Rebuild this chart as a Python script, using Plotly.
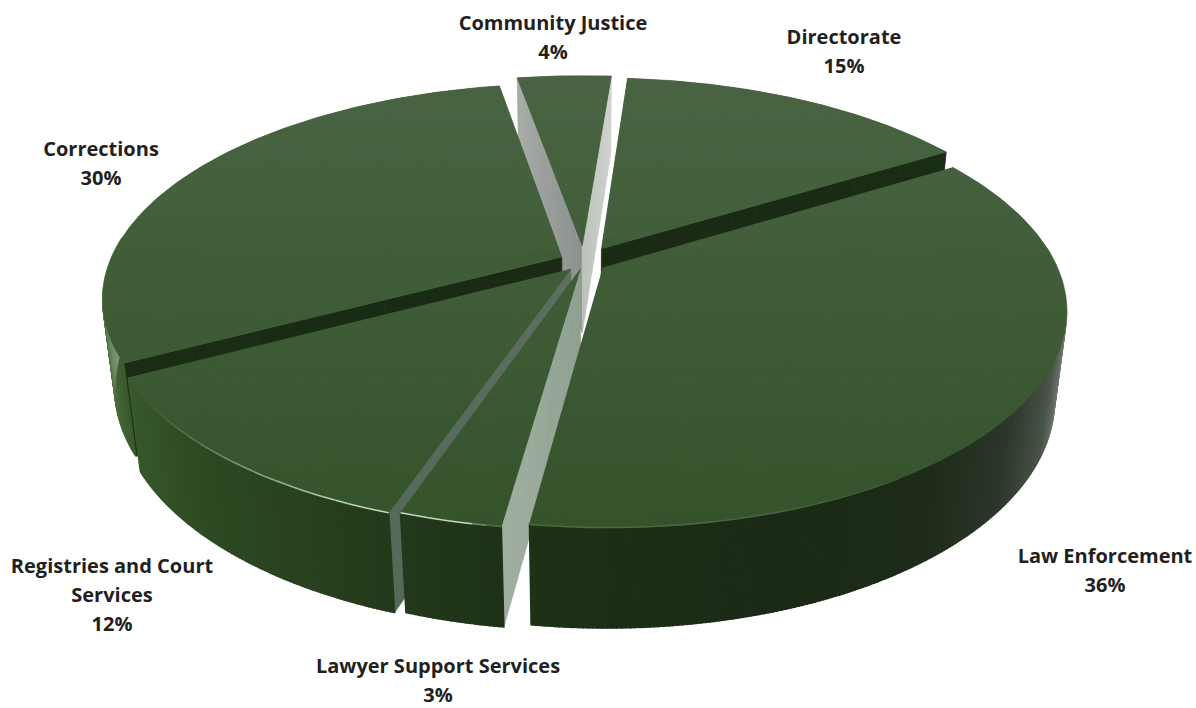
import numpy as np
import plotly.graph_objects as go

# Budget shares, clockwise from the back of the pie
categories = ["Community Justice", "Directorate", "Law Enforcement",
              "Lawyer Support Services", "Registries and Court Services", "Corrections"]
shares = [4, 15, 36, 3, 12, 30]
label_lines = [["Community Justice"], ["Directorate"], ["Law Enforcement"],
               ["Lawyer Support Services"], ["Registries and Court", "Services"], ["Corrections"]]

# How far each slice is pulled away from the centre (fraction of the radius)
explode = [0.08, 0.075, 0.05, 0.035, 0.045, 0.055]

# Label centre and first-line position in page pixels
label_x = [553, 844, 1105, 438, 112, 101]
label_y = [25, 39, 558, 668, 568, 151]
LINE_STEP = 29

# Radial cut-face colours (outer, inner); None where the face is out of sight
start_face = [("#a8aca8", "#8c908e"), None, None, ("#a0afa0", "#8f9f90"),
              ("#57695a", "#5d6f60"), ("#1a2c14", "#1a2a15")]
end_face = [("#cfd3ce", "#bcc1bc"), ("#1a2c14", "#1a2a15"), None, None, None, None]

# Painter's order, back to front
draw_order = [0, 5, 1, 4, 3, 2]

# Projection of the pie plane onto the page
CX, CY = 584, 262
AX, BY = 452, 208
PERSP = 0.19
DEPTH = 90
DEPTH_PERSP = 0.025
START_DEG = -10

TOP_STOPS = [(75, "#4a6443"), (300, "#3e5c36"), (525, "#34532b")]
WALL_STOPS = [(-1.0, "#7d967a"), (-0.975, "#4f7042"), (-0.88, "#37582b"), (-0.7, "#2d4a22"),
              (-0.4, "#263d1c"), (-0.1, "#1d3017"), (0.3, "#1b2a17"), (0.6, "#1e2b1a"),
              (0.78, "#2c382a"), (0.9, "#4a5549"), (0.97, "#7a827a"), (1.0, "#c4c9c4")]
GLINT_STOPS = [(-1.0, 0.0), (-0.85, 0.0), (-0.7, 0.25), (-0.4, 0.85), (-0.2, 0.9),
               (-0.17, 0.15), (0.3, 0.12), (0.6, 0.0), (1.0, 0.0)]


def rgb(hex_colour):
    return np.array([int(hex_colour[i:i + 2], 16) for i in (1, 3, 5)], float)


def css(c):
    return "rgb(%d,%d,%d)" % tuple(np.round(c).astype(int))


def ramp(stops, v):
    keys = [s[0] for s in stops]
    cols = np.array([rgb(s[1]) for s in stops])
    return np.array([np.interp(v, keys, cols[:, i]) for i in range(3)])


def project(px, py, z=0.0):
    den = 1 + PERSP * np.asarray(py) + DEPTH_PERSP * z
    return CX + AX * np.asarray(px) / den, CY - BY * np.asarray(py) / den + DEPTH * z / den


fig = go.Figure()


def add_group(polys, colour, line=0.0):
    xs, ys = [], []
    for x, y in polys:
        xs += list(x) + [x[0], None]
        ys += list(y) + [y[0], None]
    fig.add_trace(go.Scatter(x=xs, y=ys, mode="lines", fill="toself", fillcolor=colour,
                             line=dict(color=colour, width=line), hoverinfo="skip",
                             showlegend=False))


def draw_face(ox, oy, t, colours):
    # radial cut from the centre out to the rim, shaded along its length
    n = 14
    fr = np.linspace(0, 1, n + 1)
    for a, b in zip(fr[:-1], fr[1:]):
        px = ox + np.array([a, b, b, a]) * np.sin(t)
        py = oy + np.array([a, b, b, a]) * np.cos(t)
        x, y = project(px, py, np.array([0, 0, 1, 1]))
        mix = (a + b) / 2
        add_group([(x, y)], css(rgb(colours[1]) * (1 - mix) + rgb(colours[0]) * mix), 0.8)


edges = np.radians(START_DEG + np.cumsum([0] + shares) * 3.6)

for i in draw_order:
    t0, t1 = edges[i], edges[i + 1]
    mid = (t0 + t1) / 2
    ox, oy = explode[i] * np.sin(mid), explode[i] * np.cos(mid)

    if start_face[i]:
        draw_face(ox, oy, t0, start_face[i])
    if end_face[i]:
        draw_face(ox, oy, t1, end_face[i])

    # curved outer wall, thin strips so its shading can follow the rim;
    # strips facing away from the viewer are left out
    ts = np.linspace(t0, t1, max(int(np.degrees(t1 - t0) / 0.5), 3) + 1)
    for a, b in zip(ts[:-1], ts[1:]):
        if np.cos((a + b) / 2) > 0.1:
            continue
        px = ox + np.sin([a, b, b, a])
        py = oy + np.cos([a, b, b, a])
        x, y = project(px, py, np.array([0, 0, 1, 1]))
        add_group([(x, y)], css(ramp(WALL_STOPS, np.sin((a + b) / 2))), 1.5)

    # top surface: a base wedge, then small cells binned by shade
    arc = np.linspace(t0, t1, 120)
    bx = np.r_[ox, ox + np.sin(arc)]
    by = np.r_[oy, oy + np.cos(arc)]
    add_group([project(bx, by)], css(ramp(TOP_STOPS, 300)), 0.6)
    bins = {}
    rad = np.linspace(0, 1, 31)
    tgrid = np.linspace(t0, t1, max(int(np.degrees(t1 - t0) / 2.5), 3) + 1)
    for r0, r1 in zip(rad[:-1], rad[1:]):
        for a, b in zip(tgrid[:-1], tgrid[1:]):
            px = ox + np.array([r0, r1, r1, r0]) * np.sin([a, a, b, b])
            py = oy + np.array([r0, r1, r1, r0]) * np.cos([a, a, b, b])
            x, y = project(px, py)
            key = int(y.mean() // 12)
            bins.setdefault(key, []).append((x, y))
    for key, polys in sorted(bins.items()):
        add_group(polys, css(ramp(TOP_STOPS, key * 12 + 6)))

    # thin glint where the top surface meets the wall
    ts = np.linspace(t0, t1, max(int(np.degrees(t1 - t0) / 1.5), 3) + 1)
    for a, b in zip(ts[:-1], ts[1:]):
        m = np.sin((a + b) / 2)
        amount = np.interp(m, [s[0] for s in GLINT_STOPS], [s[1] for s in GLINT_STOPS])
        if np.cos((a + b) / 2) > 0 or amount < 0.02:
            continue
        x, y = project(ox + np.sin([a, b]), oy + np.cos([a, b]))
        colour = ramp(TOP_STOPS, 500) * (1 - amount) + rgb("#d8ecd2") * amount
        fig.add_trace(go.Scatter(x=x, y=y, mode="lines", hoverinfo="skip", showlegend=False,
                                 line=dict(color=css(colour), width=1.6)))

# Labels are laid out line by line so the leading can be set
text_x, text_y, text_s = [], [], []
for lines, v, lx, ly in zip(label_lines, shares, label_x, label_y):
    for n, line in enumerate(lines + ["%d%%" % v]):
        text_x.append(lx)
        text_y.append(ly + n * LINE_STEP)
        text_s.append("<b>%s</b>" % line)

fig.add_trace(go.Scatter(
    x=text_x, y=text_y, mode="text", text=text_s,
    textfont=dict(family="Open Sans", size=20, color="#231f20"),
    textposition="middle center", hoverinfo="skip", showlegend=False))

fig.update_layout(
    width=1196, height=708, margin=dict(l=0, r=0, t=0, b=0),
    paper_bgcolor="white", plot_bgcolor="white", showlegend=False,
    xaxis=dict(range=[0, 1196], visible=False, fixedrange=True),
    yaxis=dict(range=[708, 0], visible=False, fixedrange=True),
)

fig.write_html("out.html")
